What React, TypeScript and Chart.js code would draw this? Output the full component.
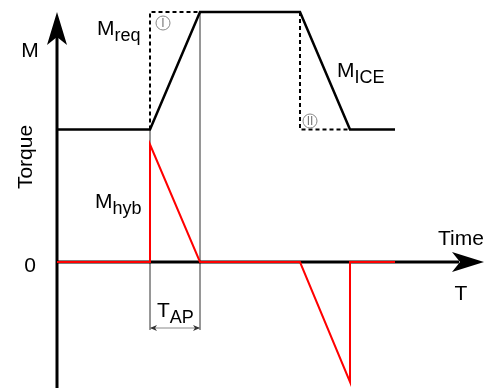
import React, { useEffect, useRef } from "react";
import { Chart, registerables } from "chart.js";

Chart.register(...registerables);

// ---- data (time units, torque units) ----
const iceTime = [0.14, 2, 3, 5, 6, 6.9];
const iceTorque = [53, 53, 100, 100, 53, 53];
const reqUpTime = [2, 2, 3];
const reqUpTorque = [53, 100, 100];
const reqDownTime = [5, 5, 6];
const reqDownTorque = [100, 53, 53];
const hybTime = [0.14, 2, 2, 3, 5, 6, 6, 6.9];
const hybTorque = [0, 0, 47, 0, 0, -48, 0, 0];
const axisOrigin = 0.14;
const timeAxisEnd = 8.68;
const torqueAxisTop = 100;
const torqueAxisBottom = -51;
const apStart = 2;
const apEnd = 3;
const guideBottom = -27.2;
const dimLevel = -26.4;

const xMin = -1;
const xMax = 8.68;
const yMin = -50.4;
const yMax = 104.8;

type Lbl = { main: string; sub?: string; x: number; y: number; align?: CanvasTextAlign; rotate?: boolean };
const labels: Lbl[] = [
  { main: "M", x: -0.4, y: 82, align: "center" },
  { main: "Torque", x: -0.36, y: 42, align: "center", rotate: true },
  { main: "M", sub: "req", x: 0.94, y: 90.8, align: "left" },
  { main: "M", sub: "hyb", x: 0.9, y: 21.6, align: "left" },
  { main: "M", sub: "ICE", x: 5.74, y: 74, align: "left" },
  { main: "T", sub: "AP", x: 2.14, y: -22, align: "left" },
  { main: "0", x: -0.4, y: -4, align: "center" },
  { main: "Time", x: 7.76, y: 6.8, align: "left" },
  { main: "T", x: 8.22, y: -15.2, align: "center" },
];
const circleMarks = [
  { text: "I", x: 2.26, y: 95.6 },
  { text: "II", x: 5.2, y: 56.4 },
];

const FONT = '"Liberation Sans", Arial, Helvetica, sans-serif';

function pts(xs: number[], ys: number[]) {
  return xs.map((x, i) => ({ x, y: ys[i] }));
}

function arrowHead(ctx: CanvasRenderingContext2D, tx: number, ty: number, dx: number, dy: number, len: number, half: number, notch: number) {
  const px = -dy, py = dx;
  ctx.beginPath();
  ctx.moveTo(tx, ty);
  ctx.lineTo(tx - dx * len + px * half, ty - dy * len + py * half);
  ctx.lineTo(tx - dx * notch, ty - dy * notch);
  ctx.lineTo(tx - dx * len - px * half, ty - dy * len - py * half);
  ctx.closePath();
  ctx.fill();
}

const overlay = {
  id: "overlay",
  afterDatasetsDraw(chart: any) {
    const ctx: CanvasRenderingContext2D = chart.ctx;
    const xs = chart.scales.x;
    const ys = chart.scales.y;
    const X = (v: number) => xs.getPixelForValue(v);
    const Y = (v: number) => ys.getPixelForValue(v);
    ctx.save();
    ctx.fillStyle = "#000";
    // axis arrowheads
    arrowHead(ctx, X(timeAxisEnd), Y(0), 1, 0, 32, 10, 24);
    arrowHead(ctx, X(axisOrigin), Y(torqueAxisTop), 0, -1, 33, 10, 25);
    // dimension arrowheads
    ctx.fillStyle = "#333";
    arrowHead(ctx, X(apStart), Y(dimLevel), -1, 0, 7, 3, 5);
    arrowHead(ctx, X(apEnd), Y(dimLevel), 1, 0, 7, 3, 5);
    // labels
    ctx.fillStyle = "#000";
    ctx.textBaseline = "alphabetic";
    for (const l of labels) {
      const px = X(l.x), py = Y(l.y);
      ctx.save();
      ctx.translate(px, py);
      if (l.rotate) ctx.rotate(-Math.PI / 2);
      ctx.font = `21px ${FONT}`;
      const mw = ctx.measureText(l.main).width;
      let sw = 0;
      if (l.sub) {
        ctx.font = `18px ${FONT}`;
        sw = ctx.measureText(l.sub).width;
      }
      const total = mw + sw;
      let start = 0;
      if (l.align === "center") start = -total / 2;
      else if (l.align === "right") start = -total;
      ctx.textAlign = "left";
      ctx.font = `21px ${FONT}`;
      ctx.fillText(l.main, start, 0);
      if (l.sub) {
        ctx.font = `18px ${FONT}`;
        ctx.fillText(l.sub, start + mw, 6);
      }
      ctx.restore();
    }
    // circled roman numerals
    ctx.strokeStyle = "#888";
    ctx.fillStyle = "#777";
    ctx.lineWidth = 1;
    ctx.textAlign = "center";
    ctx.textBaseline = "middle";
    ctx.font = `12px ${FONT}`;
    for (const c of circleMarks) {
      const px = X(c.x), py = Y(c.y);
      ctx.beginPath();
      ctx.arc(px, py, 7, 0, Math.PI * 2);
      ctx.stroke();
      ctx.fillText(c.text, px, py + 0.5);
    }
    ctx.restore();
  },
};

export default function App() {
  const ref = useRef<HTMLCanvasElement | null>(null);
  useEffect(() => {
    if (!ref.current) return;
    const common = { showLine: true, pointRadius: 0, tension: 0, fill: false, clip: false as any, borderJoinStyle: "miter" as const, borderCapStyle: "butt" as const };
    const chart = new Chart(ref.current, {
      type: "scatter",
      data: {
        datasets: [
          { ...common, data: pts(hybTime, hybTorque), borderColor: "#ff0000", borderWidth: 2 },
          { ...common, data: pts(iceTime, iceTorque), borderColor: "#000", borderWidth: 2.5 },
          { ...common, data: pts(reqUpTime, reqUpTorque), borderColor: "#000", borderWidth: 2, borderDash: [4, 3] },
          { ...common, data: pts(reqDownTime, reqDownTorque), borderColor: "#000", borderWidth: 2, borderDash: [4, 3] },
          { ...common, data: pts([axisOrigin, timeAxisEnd - 0.5], [0, 0]), borderColor: "#000", borderWidth: 3 },
          { ...common, data: pts([axisOrigin, axisOrigin], [torqueAxisBottom, torqueAxisTop - 10]), borderColor: "#000", borderWidth: 3 },
          { ...common, data: pts([apStart, apStart], [iceTorque[1], guideBottom]), borderColor: "#888", borderWidth: 1 },
          { ...common, data: pts([apEnd, apEnd], [iceTorque[2], guideBottom]), borderColor: "#888", borderWidth: 1 },
          { ...common, data: pts([apStart, apEnd], [dimLevel, dimLevel]), borderColor: "#888", borderWidth: 1 },
        ],
      },
      options: {
        animation: false,
        responsive: false,
        layout: { padding: 0 },
        plugins: { legend: { display: false }, tooltip: { enabled: false } },
        scales: {
          x: { type: "linear", min: xMin, max: xMax, display: false },
          y: { type: "linear", min: yMin, max: yMax, display: false },
        },
      },
      plugins: [overlay],
    });
    return () => chart.destroy();
  }, []);
  return (
    <div style={{ position: "fixed", left: 0, top: 0, width: 484, height: 388, background: "#fff" }}>
      <canvas ref={ref} width={484} height={388} style={{ display: "block" }} />
    </div>
  );
}
